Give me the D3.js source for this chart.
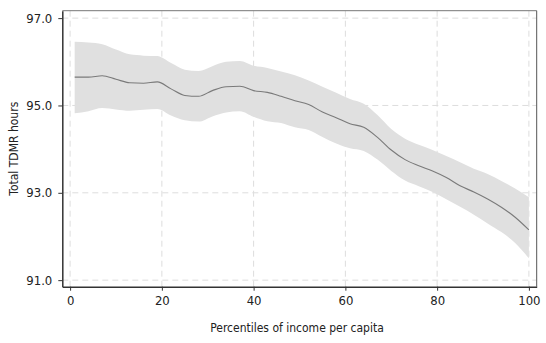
<!DOCTYPE html>
<html>
<head>
<meta charset="UTF-8">
<script src="https://d3js.org/d3.v7.min.js"></script>
<style>
  body { margin: 0; background: #fff; }
  svg { display: block; }
  text { font-family: "DejaVu Sans Condensed", "DejaVu Sans", sans-serif; font-stretch: condensed; fill: #222; }
</style>
</head>
<body>
<svg id="chart" width="546" height="343"></svg>
<script>
// percentiles of income per capita
const pct = [1, 4, 7, 10, 13, 16, 19, 22, 25, 28, 31, 34, 37, 40, 43, 46, 49, 52, 55,
             58, 61, 64, 67, 70, 73, 76, 79, 82, 85, 88, 91, 94, 97, 100];
// fitted total TDMR hours
const fit = [95.65, 95.65, 95.68, 95.60, 95.52, 95.51, 95.54, 95.38, 95.23, 95.21, 95.34,
             95.43, 95.44, 95.34, 95.30, 95.21, 95.11, 95.02, 94.85, 94.72, 94.58, 94.50,
             94.27, 93.98, 93.76, 93.62, 93.50, 93.35, 93.16, 93.02, 92.86, 92.67, 92.44, 92.15];
const upper = [96.46, 96.44, 96.40, 96.28, 96.17, 96.14, 96.13, 95.97, 95.82, 95.79, 95.90,
               96.00, 96.02, 95.91, 95.86, 95.78, 95.69, 95.57, 95.43, 95.29, 95.15, 95.04,
               94.78, 94.46, 94.24, 94.10, 93.98, 93.84, 93.70, 93.55, 93.43, 93.27, 93.10, 92.90];
const lower = [94.82, 94.87, 94.94, 94.91, 94.88, 94.90, 94.92, 94.77, 94.66, 94.63, 94.75,
               94.84, 94.87, 94.74, 94.64, 94.60, 94.50, 94.44, 94.28, 94.13, 94.02, 93.96,
               93.76, 93.50, 93.28, 93.15, 93.02, 92.85, 92.68, 92.50, 92.30, 92.10, 91.85, 91.50];
const xTicks = [0, 20, 40, 60, 80, 100];
const yTicks = [91, 93, 95, 97];

const svg = d3.select("#chart");
const L = 62.3, R = 536.7, T = 10.7, B = 286.7;

const x = d3.scaleLinear().domain([-1.7, 101.7]).range([L, R]);
const y = d3.scaleLinear().domain([90.85, 97.17]).range([B, T]);

const rows = pct.map((p, i) => ({p, fit: fit[i], hi: upper[i], lo: lower[i]}));

// grid
svg.append("g").selectAll("line").data(xTicks).join("line")
  .attr("x1", d => x(d)).attr("x2", d => x(d)).attr("y1", T).attr("y2", B)
  .attr("stroke", "#ddd").attr("stroke-width", 1).attr("stroke-dasharray", "6,4");
svg.append("g").selectAll("line").data(yTicks).join("line")
  .attr("y1", d => y(d)).attr("y2", d => y(d)).attr("x1", L).attr("x2", R)
  .attr("stroke", "#ddd").attr("stroke-width", 1).attr("stroke-dasharray", "6,4");

// confidence band
svg.append("path").datum(rows)
  .attr("fill", "#e0e0e0")
  .attr("d", d3.area().x(d => x(d.p)).y0(d => y(d.lo)).y1(d => y(d.hi)).curve(d3.curveMonotoneX));

// fitted line
svg.append("path").datum(rows)
  .attr("fill", "none").attr("stroke", "#7a7a7a").attr("stroke-width", 1.1)
  .attr("d", d3.line().x(d => x(d.p)).y(d => y(d.fit)).curve(d3.curveMonotoneX));

// frame
svg.append("line").attr("x1", L).attr("x2", R).attr("y1", T).attr("y2", T)
  .attr("stroke", "#777").attr("stroke-width", 1);
svg.append("line").attr("x1", R).attr("x2", R).attr("y1", T).attr("y2", B)
  .attr("stroke", "#555").attr("stroke-width", 1);

// axes
const xAxis = svg.append("g").attr("transform", `translate(0,${B})`)
  .call(d3.axisBottom(x).tickValues(xTicks).tickSize(4).tickPadding(5).tickSizeOuter(0));
const yAxis = svg.append("g").attr("transform", `translate(${L},0)`)
  .call(d3.axisLeft(y).tickValues(yTicks).tickFormat(d3.format(".1f")).tickSize(4).tickPadding(6).tickSizeOuter(0));
[xAxis, yAxis].forEach(a => {
  a.select(".domain").attr("stroke", "#333").attr("stroke-width", 1.5);
  a.selectAll(".tick line").attr("stroke", "#333");
  a.selectAll("text").style("font-size", "13px").attr("fill", "#222");
});

svg.append("text").attr("x", 297).attr("y", 332)
  .attr("text-anchor", "middle").style("font-size", "12px")
  .text("Percentiles of income per capita");
svg.append("text").attr("transform", `translate(18,${(T + B) / 2}) rotate(-90)`)
  .attr("text-anchor", "middle").style("font-size", "12px")
  .text("Total TDMR hours");
</script>
</body>
</html>
